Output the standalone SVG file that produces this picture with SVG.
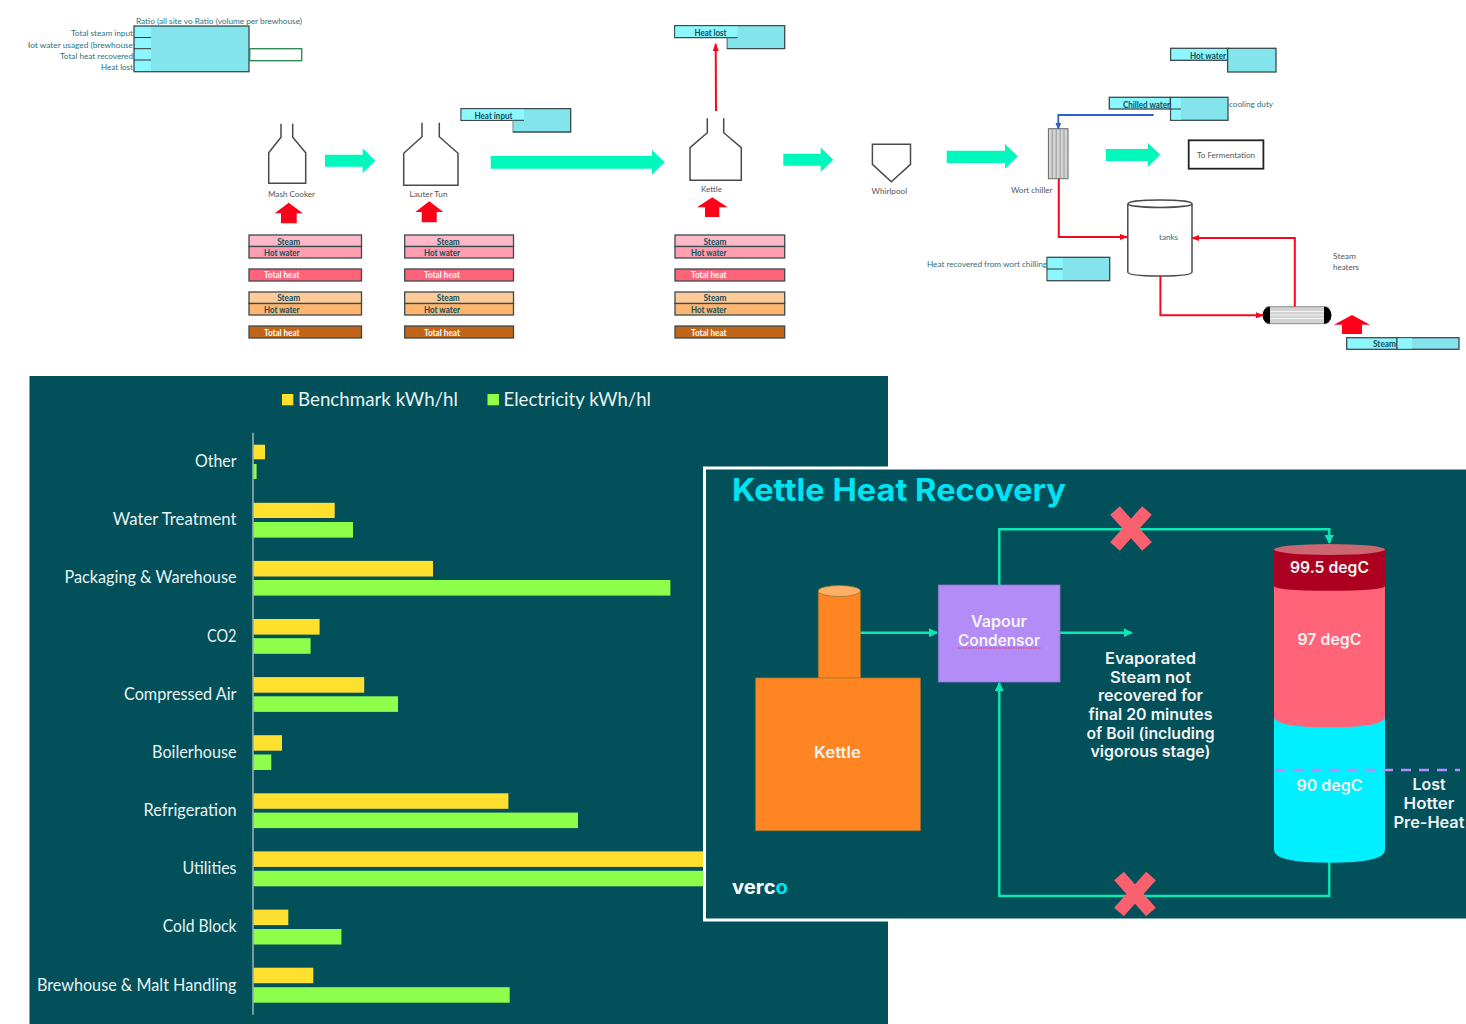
<svg xmlns="http://www.w3.org/2000/svg" width="1466" height="1024" viewBox="0 0 1466 1024">
<style>
text{font-family:"Lato","Liberation Sans",sans-serif}
.s{font-size:8px;fill:#2b7080}
.g{font-size:8px;fill:#555}
.d{font-size:8.5px;fill:#0a4f5a;font-weight:700}
.w{font-size:8.5px;fill:#fff;font-weight:700}
.box{stroke:#3a4a4e;stroke-width:1.3}
.lt{fill:#8df7ff}.dk{fill:#84e4ec}
.c1{fill:#ffb9c8}.c2{fill:#ff9eae}.c3{fill:#ff6478}.c4{fill:#ffcc99}.c5{fill:#ffb570}.c6{fill:#c0651a}
.arr{fill:#00f8bc}.red{fill:#ff0018}
.v{fill:#fff;stroke:#4a4a4a;stroke-width:1.5}
.p{fill:#02505a}
.cat{font-size:16.5px;fill:#e8f3f3;text-anchor:end}
.leg{font-size:20px;fill:#e8f3f3}
.y{fill:#ffe02e}.gr{fill:#8dff4a}
.k{font-family:"Inter","Liberation Sans",sans-serif;font-weight:600;fill:#f2f4f4;text-anchor:middle;font-size:15.5px}
.t{fill:none;stroke:#0de8b4;stroke-width:2.4}
.rl{fill:none;stroke:#f5081f;stroke-width:2}
.x{fill:none;stroke:#f9616f;stroke-width:13}
</style>
<defs>
<marker id="mr" markerWidth="8" markerHeight="6" refX="7" refY="3" orient="auto" markerUnits="userSpaceOnUse"><path d="M0,0L8,3L0,6z" fill="#f5081f"/></marker>
<marker id="mb" markerWidth="7" markerHeight="6" refX="6" refY="3" orient="auto" markerUnits="userSpaceOnUse"><path d="M0,0L7,3L0,6z" fill="#2f62c8"/></marker>
<marker id="mt" markerWidth="9" markerHeight="9" refX="8" refY="4.5" orient="auto" markerUnits="userSpaceOnUse"><path d="M0,0L9,4.5L0,9z" fill="#0de8b4"/></marker>
<clipPath id="cl"><rect x="28" y="38" width="106" height="12"/></clipPath>
</defs>
<rect width="1466" height="1024" fill="#fff"/>

<g id="ratio-table">
<text class="s" x="136" y="24" textLength="166" lengthAdjust="spacingAndGlyphs">Ratio (all site vo Ratio (volume per brewhouse)</text>
<rect class="dk" x="134" y="26" width="115" height="45.7"/><rect class="lt" x="134" y="26" width="17" height="45.7"/>
<rect x="134" y="26" width="115" height="45.7" fill="none" class="box"/>
<path d="M134,37.5H151M134,48.7H151M134,60H151" stroke="#333" stroke-width="1"/>
<rect x="249.7" y="48.7" width="52" height="12" fill="#fff" stroke="#2e8b57" stroke-width="1.4"/>
<text class="s" x="133" y="36" text-anchor="end" textLength="62" lengthAdjust="spacingAndGlyphs">Total steam input</text>
<text class="s" x="133" y="47.5" text-anchor="end" textLength="109" lengthAdjust="spacingAndGlyphs" clip-path="url(#cl)">Hot water usaged (brewhouse</text>
<text class="s" x="133" y="58.7" text-anchor="end" textLength="73" lengthAdjust="spacingAndGlyphs">Total heat recovered</text>
<text class="s" x="133" y="70" text-anchor="end" textLength="32" lengthAdjust="spacingAndGlyphs">Heat lost</text>
</g>

<g id="mash-cooker">
<path class="v" d="M281,123.7V137.3L268.7,152.7V183.3H305.7V152.7L292.7,137.3V123.7"/>
<text class="g" x="268" y="196.5" textLength="47" lengthAdjust="spacingAndGlyphs">Mash Cooker</text>
<path class="red" d="M288.7,202.7L302.7,213.3H296.7V223.3H281V213.3H274.7z"/>
</g>
<g id="mash-table">
<rect class="c1 box" x="249" y="235" width="112.5" height="11.5"/><rect class="c2 box" x="249" y="246.5" width="112.5" height="11.5"/>
<rect class="c3 box" x="249" y="269" width="112.5" height="12"/>
<rect class="c4 box" x="249" y="292" width="112.5" height="11.5"/><rect class="c5 box" x="249" y="303.5" width="112.5" height="11.5"/>
<rect class="c6 box" x="249" y="326" width="112.5" height="12"/>
<text class="d" x="288.7" y="245" text-anchor="middle" textLength="23" lengthAdjust="spacingAndGlyphs">Steam</text>
<text class="d" x="264" y="256.3" textLength="35.5" lengthAdjust="spacingAndGlyphs">Hot water</text>
<text class="w" x="264" y="278" textLength="35.5" lengthAdjust="spacingAndGlyphs">Total heat</text>
<text class="d" x="288.7" y="301.3" text-anchor="middle" textLength="23" lengthAdjust="spacingAndGlyphs">Steam</text>
<text class="d" x="264" y="312.5" textLength="35.5" lengthAdjust="spacingAndGlyphs">Hot water</text>
<text class="w" x="264" y="335.7" textLength="35.5" lengthAdjust="spacingAndGlyphs">Total heat</text>
</g>

<g id="lauter-tun">
<path class="v" d="M422,122.7V136.7L403.7,153.3V185.3H458V153.3L439.3,136.7V122.7"/>
<text class="g" x="409.5" y="197" textLength="38" lengthAdjust="spacingAndGlyphs">Lauter Tun</text>
<path class="red" d="M429.3,201.3L443.3,212H436.7V222.3H421.7V212H415.3z"/>
</g>
<g id="lauter-table">
<rect class="c1 box" x="404.7" y="235" width="108.8" height="11.5"/><rect class="c2 box" x="404.7" y="246.5" width="108.8" height="11.5"/>
<rect class="c3 box" x="404.7" y="269" width="108.8" height="12"/>
<rect class="c4 box" x="404.7" y="292" width="108.8" height="11.5"/><rect class="c5 box" x="404.7" y="303.5" width="108.8" height="11.5"/>
<rect class="c6 box" x="404.7" y="326" width="108.8" height="12"/>
<text class="d" x="448.3" y="245" text-anchor="middle" textLength="23" lengthAdjust="spacingAndGlyphs">Steam</text>
<text class="d" x="424" y="256.3" textLength="36" lengthAdjust="spacingAndGlyphs">Hot water</text>
<text class="w" x="424" y="278" textLength="36" lengthAdjust="spacingAndGlyphs">Total heat</text>
<text class="d" x="448.3" y="301.3" text-anchor="middle" textLength="23" lengthAdjust="spacingAndGlyphs">Steam</text>
<text class="d" x="424" y="312.5" textLength="36" lengthAdjust="spacingAndGlyphs">Hot water</text>
<text class="w" x="424" y="335.7" textLength="36" lengthAdjust="spacingAndGlyphs">Total heat</text>
</g>
<g id="heat-input">
<path class="dk box" d="M461,108.7H570.7V132H513.3V120.3H461z"/>
<path class="lt" d="M461.7,109.4H524V120H514V131.3H513.3V119.7H461.7z"/>
<path d="M513.3,120.3H524" stroke="#333" stroke-width="1"/>
<text class="d" x="474.5" y="119" textLength="38" lengthAdjust="spacingAndGlyphs">Heat input</text>
</g>

<g id="kettle">
<path class="v" d="M707.3,118.3V132.7L690,147.7V180.3H741.3V147.7L723.7,132.7V118.3"/>
<text class="g" x="701" y="191.5" textLength="21" lengthAdjust="spacingAndGlyphs">Kettle</text>
<path class="red" d="M712.3,197.3L727.7,207.3H719.3V217H705V207.3H697z"/>
</g>
<g id="kettle-table">
<rect class="c1 box" x="675" y="235" width="109.7" height="11.5"/><rect class="c2 box" x="675" y="246.5" width="109.7" height="11.5"/>
<rect class="c3 box" x="675" y="269" width="109.7" height="12"/>
<rect class="c4 box" x="675" y="292" width="109.7" height="11.5"/><rect class="c5 box" x="675" y="303.5" width="109.7" height="11.5"/>
<rect class="c6 box" x="675" y="326" width="109.7" height="12"/>
<text class="d" x="715" y="245" text-anchor="middle" textLength="23" lengthAdjust="spacingAndGlyphs">Steam</text>
<text class="d" x="691" y="256.3" textLength="35.5" lengthAdjust="spacingAndGlyphs">Hot water</text>
<text class="w" x="691" y="278" textLength="35.5" lengthAdjust="spacingAndGlyphs">Total heat</text>
<text class="d" x="715" y="301.3" text-anchor="middle" textLength="23" lengthAdjust="spacingAndGlyphs">Steam</text>
<text class="d" x="691" y="312.5" textLength="35.5" lengthAdjust="spacingAndGlyphs">Hot water</text>
<text class="w" x="691" y="335.7" textLength="35.5" lengthAdjust="spacingAndGlyphs">Total heat</text>
</g>
<g id="heat-lost">
<path class="dk box" d="M674.7,25.7H784.7V48.7H727.3V37.7H674.7z"/>
<path class="lt" d="M675.4,26.4H737.7V37.2H728V48H727.6V37H675.4z"/>
<path d="M727.3,37.7H737.7" stroke="#333" stroke-width="1"/>
<text class="d" x="694.5" y="36" textLength="32" lengthAdjust="spacingAndGlyphs">Heat lost</text>
</g>

<g id="whirlpool">
<path class="v" d="M872.4,144.3H910.5V164.3L891.3,181.7L872.4,164.3z"/>
<text class="g" x="871.6" y="193.5" textLength="35.5" lengthAdjust="spacingAndGlyphs">Whirlpool</text>
</g>
<g id="wort-chiller">
<rect x="1048.4" y="128.7" width="19.6" height="50" fill="#d4d4d4" stroke="#666" stroke-width="1"/>
<path d="M1052.3,129V178.5M1056.2,129V178.5M1060.1,129V178.5M1064,129V178.5" stroke="#999" stroke-width="1"/>
<text class="g" x="1011" y="192.5" textLength="41.5" lengthAdjust="spacingAndGlyphs">Wort chiller</text>
</g>
<g id="to-fermentation">
<rect x="1188.7" y="140.3" width="74.7" height="28.4" fill="#fff" stroke="#222" stroke-width="1.8"/>
<text class="g" x="1197" y="158" textLength="58" lengthAdjust="spacingAndGlyphs">To Fermentation</text>
</g>
<g id="tanks">
<path class="v" d="M1127.8,204V272Q1127.8,276 1160,276Q1192,276 1192,272V204"/>
<ellipse class="v" cx="1160" cy="203.7" rx="32" ry="3.7"/>
<text class="s" x="1159" y="240" textLength="19" lengthAdjust="spacingAndGlyphs">tanks</text>
</g>
<g id="steam-heater">
<rect x="1265" y="306.7" width="64" height="17" rx="3" fill="#d2d2d2" stroke="#777" stroke-width=".8"/>
<path d="M1270,311.5H1325M1270,315H1325M1270,318.5H1325" stroke="#f2f2f2" stroke-width="1"/>
<path d="M1270,306.7A7.5,8.5 0 0 0 1270,323.7z" fill="#000"/>
<path d="M1324,306.7A7.5,8.5 0 0 1 1324,323.7z" fill="#000"/>
<path class="red" d="M1352,315L1370,324.7H1362V334H1342V324.7H1334z"/>
<text class="g" x="1333" y="259" textLength="23" lengthAdjust="spacingAndGlyphs">Steam</text>
<text class="g" x="1333" y="270" textLength="26" lengthAdjust="spacingAndGlyphs">heaters</text>
</g>
<g id="hot-water">
<rect class="lt box" x="1170.6" y="48.3" width="57" height="12"/>
<rect class="dk box" x="1227.6" y="48.3" width="48.4" height="23.7"/>
<text class="d" x="1190" y="59" textLength="36" lengthAdjust="spacingAndGlyphs">Hot water</text>
</g>
<g id="chilled-water">
<rect class="lt box" x="1109.3" y="97.3" width="61" height="11.7"/>
<rect class="dk box" x="1170.6" y="97.3" width="57.4" height="23"/>
<rect class="lt" x="1171.3" y="98" width="9.7" height="21.6"/>
<path d="M1170.6,109H1181" stroke="#333" stroke-width="1"/>
<text class="d" x="1123" y="107.5" textLength="47" lengthAdjust="spacingAndGlyphs">Chilled water</text>
<text class="s" x="1229" y="107" textLength="44" lengthAdjust="spacingAndGlyphs">cooling duty</text>
</g>
<g id="heat-recovered">
<rect class="dk box" x="1047" y="257.3" width="62.7" height="23.4"/>
<rect class="lt" x="1047.7" y="258" width="14.9" height="22"/>
<path d="M1047,269H1062.6" stroke="#333" stroke-width="1"/>
<text class="s" x="927" y="266.5" textLength="120" lengthAdjust="spacingAndGlyphs">Heat recovered from wort chilling</text>
</g>
<g id="steam-box">
<rect class="lt box" x="1346.7" y="337.7" width="50.3" height="11.6"/>
<rect class="dk box" x="1397" y="337.7" width="62" height="11.6"/>
<rect class="lt" x="1397.7" y="338.4" width="14.3" height="10.2"/>
<text class="d" x="1373" y="347" textLength="23" lengthAdjust="spacingAndGlyphs">Steam</text>
</g>

<g id="process-connectors">
<path class="arr" d="M325,154.7H362.7V148.3L375.3,160.7L362.7,173V166.7H325z"/>
<path class="arr" d="M490.7,156H652V150L664.7,162.3L652,174.7V168.7H490.7z"/>
<path class="arr" d="M783.3,153.7H820.7V147.3L833.3,159.7L820.7,172V165.7H783.3z"/>
<path class="arr" d="M946.7,150.7H1005V144L1017.8,156.3L1005,168.7V163H946.7z"/>
<path class="arr" d="M1105.8,149H1147.8V142.7L1160.4,154.8L1147.8,167V161H1105.8z"/>
<path d="M716,111L715.7,44" class="rl" stroke-width="2.2" marker-end="url(#mr)"/>
<path d="M1153.7,115H1058.3V128.7" fill="none" stroke="#2f62c8" stroke-width="1.8" marker-end="url(#mb)"/>
<path class="rl" d="M1058.8,178.7V237H1127" marker-end="url(#mr)"/>
<path class="rl" d="M1294.8,306.7V238H1192" marker-end="url(#mr)"/>
<path class="rl" d="M1160.4,276V315.3H1263" marker-end="url(#mr)"/>
</g>

<g id="energy-chart">
<rect class="p" x="29.5" y="376" width="858.5" height="648"/>
<rect class="y" x="282" y="394" width="11.3" height="11.3"/>
<text class="leg" x="298" y="406" textLength="160" lengthAdjust="spacingAndGlyphs">Benchmark kWh/hl</text>
<rect class="gr" x="487.5" y="394" width="11.5" height="11.3"/>
<text class="leg" x="503.5" y="406" textLength="147.5" lengthAdjust="spacingAndGlyphs">Electricity kWh/hl</text>
<g>
<rect class="y" x="253.5" y="444.7" width="11.5" height="14.6"/><rect class="gr" x="253.5" y="464" width="3.1" height="15"/>
<rect class="y" x="253.5" y="502.8" width="81.2" height="15.2"/><rect class="gr" x="253.5" y="522" width="99.5" height="15.6"/>
<rect class="y" x="253.5" y="560.9" width="179.5" height="15.6"/><rect class="gr" x="253.5" y="580" width="416.9" height="15.6"/>
<rect class="y" x="253.5" y="619" width="66.1" height="15.6"/><rect class="gr" x="253.5" y="638.2" width="57.1" height="15.6"/>
<rect class="y" x="253.5" y="677.1" width="110.7" height="15.6"/><rect class="gr" x="253.5" y="696.3" width="144.5" height="15.6"/>
<rect class="y" x="253.5" y="735.2" width="28.5" height="15.5"/><rect class="gr" x="253.5" y="754.5" width="17.8" height="15.5"/>
<rect class="y" x="253.5" y="793.3" width="254.9" height="15.5"/><rect class="gr" x="253.5" y="812.6" width="324.5" height="15.5"/>
<rect class="y" x="253.5" y="851.4" width="460" height="15.5"/><rect class="gr" x="253.5" y="870.8" width="460" height="15.5"/>
<rect class="y" x="253.5" y="909.6" width="34.8" height="15.5"/><rect class="gr" x="253.5" y="929" width="87.9" height="15.5"/>
<rect class="y" x="253.5" y="967.7" width="59.8" height="15.5"/><rect class="gr" x="253.5" y="987.2" width="256.2" height="15.5"/>
</g>
<path d="M253,432.7V1014.7" stroke="#c3cfd0" stroke-width="1.2"/>
<text class="cat" x="236.5" y="467" textLength="41.5" lengthAdjust="spacingAndGlyphs">Other</text>
<text class="cat" x="236.5" y="525.3" textLength="123.7" lengthAdjust="spacingAndGlyphs">Water Treatment</text>
<text class="cat" x="236.5" y="583.4" textLength="172" lengthAdjust="spacingAndGlyphs">Packaging &amp; Warehouse</text>
<text class="cat" x="236.5" y="641.5" textLength="29.5" lengthAdjust="spacingAndGlyphs">CO2</text>
<text class="cat" x="236.5" y="699.7" textLength="112.5" lengthAdjust="spacingAndGlyphs">Compressed Air</text>
<text class="cat" x="236.5" y="757.8" textLength="84.4" lengthAdjust="spacingAndGlyphs">Boilerhouse</text>
<text class="cat" x="236.5" y="816" textLength="92.9" lengthAdjust="spacingAndGlyphs">Refrigeration</text>
<text class="cat" x="236.5" y="874.2" textLength="54" lengthAdjust="spacingAndGlyphs">Utilities</text>
<text class="cat" x="236.5" y="932.3" textLength="73.7" lengthAdjust="spacingAndGlyphs">Cold Block</text>
<text class="cat" x="236.5" y="990.5" textLength="199.6" lengthAdjust="spacingAndGlyphs">Brewhouse &amp; Malt Handling</text>
</g>

<g id="recovery-panel">
<rect class="p" x="704.5" y="468" width="800" height="452" stroke="#fff" stroke-width="3"/>
<text x="732" y="501" font-size="31" font-weight="700" fill="#00e3f2" textLength="334" lengthAdjust="spacingAndGlyphs" style="font-family:Inter,'Liberation Sans',sans-serif">Kettle Heat Recovery</text>
<text x="732" y="894" font-size="19" font-weight="700" fill="#fff" textLength="56" lengthAdjust="spacingAndGlyphs" style="font-family:Inter,'Liberation Sans',sans-serif">verc<tspan fill="#00e3f2">o</tspan></text>
</g>
<g id="recovery-connectors">
<path class="t" d="M860,632.7H937" marker-end="url(#mt)"/>
<path class="t" d="M999.3,585V529.3H1329.3V543" marker-end="url(#mt)"/>
<path class="t" d="M1060,632.7H1131.7" marker-end="url(#mt)"/>
<path class="t" d="M1329.3,862V896H999.3V683" marker-end="url(#mt)"/>
<path class="x" d="M1115,510.5L1147,546.5M1147,510.5L1115,546.5"/>
<path class="x" d="M1119,876L1151,912M1151,876L1119,912"/>
</g>
<g id="kettle-vessel">
<rect x="818.3" y="591" width="42" height="87" fill="#ff8522" stroke="#a8772f" stroke-width=".8"/>
<ellipse cx="839.3" cy="591" rx="21" ry="5.5" fill="#ffb066" stroke="#8a7a3a" stroke-width=".8"/>
<rect x="755.7" y="678" width="164.6" height="152.7" fill="#ff8522" stroke="#a8772f" stroke-width=".8"/>
<text class="k" x="837.5" y="757.5" textLength="47" lengthAdjust="spacingAndGlyphs">Kettle</text>
</g>
<g id="vapour-condensor">
<rect x="938.3" y="585" width="121.7" height="97" fill="#b48cf8" stroke="#8f78cc" stroke-width=".8"/>
<text class="k" x="999" y="626.5" textLength="56" lengthAdjust="spacingAndGlyphs">Vapour</text>
<text class="k" x="999" y="645.5" textLength="82" lengthAdjust="spacingAndGlyphs">Condensor</text>
<path d="M958,648H1041" stroke="#e03040" stroke-width="1" stroke-dasharray="1.5,1"/>
</g>
<g id="evaporated-note">
<text class="k" x="1150.5" y="664" textLength="91" lengthAdjust="spacingAndGlyphs">Evaporated</text>
<text class="k" x="1150.5" y="682.7" textLength="81" lengthAdjust="spacingAndGlyphs">Steam not</text>
<text class="k" x="1150.5" y="701.4" textLength="105" lengthAdjust="spacingAndGlyphs">recovered for</text>
<text class="k" x="1150.5" y="720" textLength="124" lengthAdjust="spacingAndGlyphs">final 20 minutes</text>
<text class="k" x="1150.5" y="738.7" textLength="128" lengthAdjust="spacingAndGlyphs">of Boil (including</text>
<text class="k" x="1150.5" y="757.4" textLength="120" lengthAdjust="spacingAndGlyphs">vigorous stage)</text>
</g>
<g id="buffer-tank">
<path d="M1274,716V850Q1274,862.7 1329.5,862.7Q1385,862.7 1385,850V716z" fill="#00f0ff"/>
<path d="M1274,586V716.7Q1274,727.3 1329.5,727.3Q1385,727.3 1385,716.7V586z" fill="#ff6478"/>
<path d="M1274,550V586Q1274,590.7 1329.5,590.7Q1385,590.7 1385,586V550z" fill="#ad0020"/>
<ellipse cx="1329.5" cy="549.5" rx="55.5" ry="5.5" fill="#cc6670"/>
<path d="M1275,770H1460" stroke="#b58cff" stroke-width="2.4" stroke-dasharray="10,8"/>
<text class="k" x="1329.5" y="573" textLength="79" lengthAdjust="spacingAndGlyphs">99.5 degC</text>
<text class="k" x="1329.5" y="645" textLength="64" lengthAdjust="spacingAndGlyphs">97 degC</text>
<text class="k" x="1329.5" y="791" textLength="66" lengthAdjust="spacingAndGlyphs">90 degC</text>
<text class="k" x="1429" y="790" textLength="33" lengthAdjust="spacingAndGlyphs">Lost</text>
<text class="k" x="1429" y="809" textLength="51" lengthAdjust="spacingAndGlyphs">Hotter</text>
<text class="k" x="1429" y="828" textLength="71" lengthAdjust="spacingAndGlyphs">Pre-Heat</text>
</g>
</svg>
